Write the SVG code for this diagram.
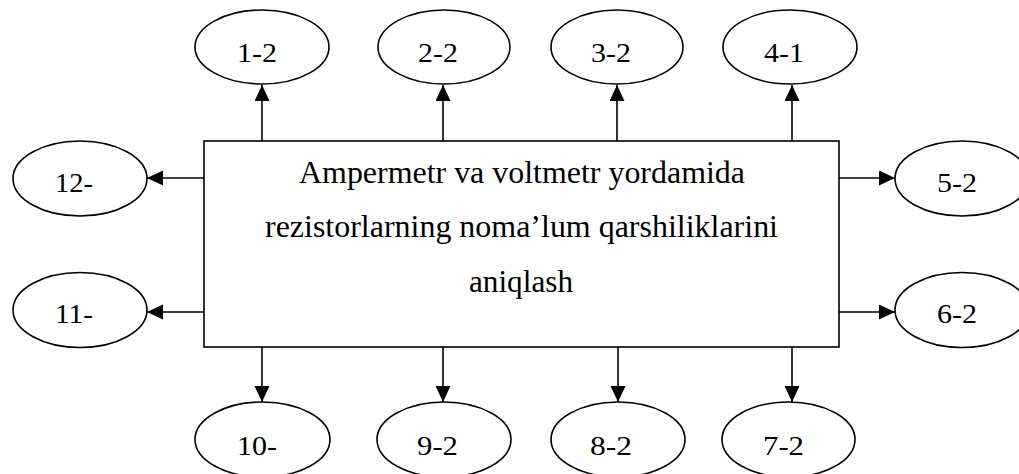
<svg xmlns="http://www.w3.org/2000/svg" width="1019" height="474" viewBox="0 0 1019 474">
<style>
.sh{fill:#fff;stroke:#000;stroke-width:1.6}
.ln{stroke:#000;stroke-width:1.6;fill:none;marker-end:url(#ar)}
.lb{font-size:28px;fill:#000}
.mt{font-size:31px;fill:#000;text-anchor:middle}
</style>
<defs>
<marker id="ar" markerUnits="userSpaceOnUse" markerWidth="17" markerHeight="16" refX="16" refY="7.5" orient="auto">
<path d="M0,0 L16,7.5 L0,15 z" fill="#000"/>
</marker>
</defs>
<rect width="1019" height="474" fill="#fff"/>
<g id="connectors">
<line class="ln" x1="262" y1="141" x2="262" y2="85"/>
<line class="ln" x1="443" y1="141" x2="443" y2="85"/>
<line class="ln" x1="617" y1="141" x2="617" y2="85"/>
<line class="ln" x1="792" y1="141" x2="792" y2="85"/>
<line class="ln" x1="262" y1="347" x2="262" y2="402"/>
<line class="ln" x1="443" y1="347" x2="443" y2="402"/>
<line class="ln" x1="618" y1="347" x2="618" y2="402"/>
<line class="ln" x1="792" y1="347" x2="792" y2="402"/>
<line class="ln" x1="204" y1="178" x2="147" y2="178"/>
<line class="ln" x1="204" y1="312" x2="147" y2="312"/>
<line class="ln" x1="839" y1="178" x2="895" y2="178"/>
<line class="ln" x1="839" y1="312" x2="895" y2="312"/>
</g>
<g id="main" font-family="'Liberation Serif', 'Times New Roman', serif">
<rect class="sh" x="204" y="141" width="635" height="206"/>
<text class="mt" x="522" y="183" textLength="446" lengthAdjust="spacingAndGlyphs">Ampermetr va voltmetr yordamida</text>
<text class="mt" x="521.5" y="237" textLength="513" lengthAdjust="spacingAndGlyphs">rezistorlarning noma’lum qarshiliklarini</text>
<text class="mt" x="521" y="292" textLength="104" lengthAdjust="spacingAndGlyphs">aniqlash</text>
</g>
<g font-family="'Liberation Serif', 'Times New Roman', serif">
<g id="n1"><ellipse class="sh" cx="262" cy="47" rx="67" ry="37"/><text class="lb" x="237" y="62" textLength="40" lengthAdjust="spacingAndGlyphs">1-2</text></g>
<g id="n2"><ellipse class="sh" cx="444" cy="47" rx="66" ry="37"/><text class="lb" x="418" y="62" textLength="40" lengthAdjust="spacingAndGlyphs">2-2</text></g>
<g id="n3"><ellipse class="sh" cx="617" cy="47" rx="66" ry="37"/><text class="lb" x="591" y="62" textLength="40" lengthAdjust="spacingAndGlyphs">3-2</text></g>
<g id="n4"><ellipse class="sh" cx="790" cy="47" rx="67" ry="37"/><text class="lb" x="764" y="62" textLength="40" lengthAdjust="spacingAndGlyphs">4-1</text></g>
<g id="n5"><ellipse class="sh" cx="962" cy="178.5" rx="67" ry="37.5"/><text class="lb" x="937" y="192" textLength="40" lengthAdjust="spacingAndGlyphs">5-2</text></g>
<g id="n6"><ellipse class="sh" cx="962" cy="310" rx="67" ry="37.5"/><text class="lb" x="937" y="323" textLength="40" lengthAdjust="spacingAndGlyphs">6-2</text></g>
<g id="n7"><ellipse class="sh" cx="788.5" cy="439.5" rx="66.5" ry="37.5"/><text class="lb" x="763" y="455" textLength="41" lengthAdjust="spacingAndGlyphs">7-2</text></g>
<g id="n8"><ellipse class="sh" cx="618" cy="439.5" rx="67" ry="37.5"/><text class="lb" x="590" y="455" textLength="42" lengthAdjust="spacingAndGlyphs">8-2</text></g>
<g id="n9"><ellipse class="sh" cx="444" cy="439.5" rx="67" ry="37.5"/><text class="lb" x="417" y="455" textLength="41" lengthAdjust="spacingAndGlyphs">9-2</text></g>
<g id="n10"><ellipse class="sh" cx="262.5" cy="439.5" rx="67.5" ry="37.5"/><text class="lb" x="237" y="455" textLength="40" lengthAdjust="spacingAndGlyphs">10-</text></g>
<g id="n11"><ellipse class="sh" cx="80" cy="310" rx="67" ry="37.5"/><text class="lb" x="55" y="323" textLength="38" lengthAdjust="spacingAndGlyphs">11-</text></g>
<g id="n12"><ellipse class="sh" cx="80" cy="178.5" rx="67" ry="37.5"/><text class="lb" x="55" y="192" textLength="38" lengthAdjust="spacingAndGlyphs">12-</text></g>
</g>
</svg>
